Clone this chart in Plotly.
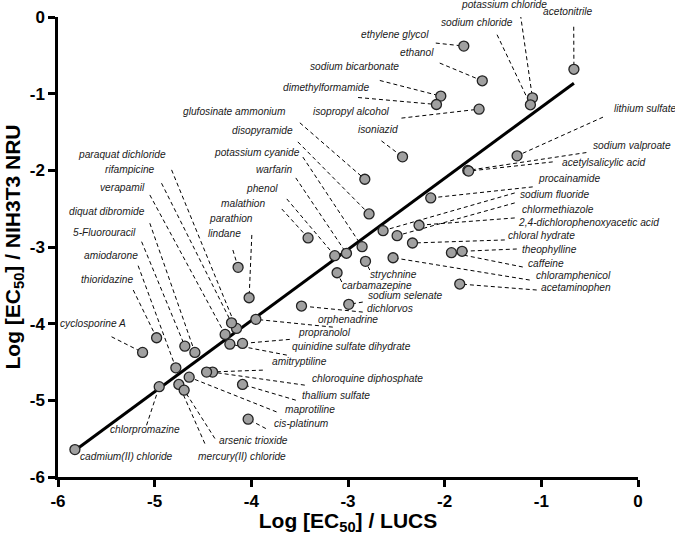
import plotly.graph_objects as go

# compound names and log EC50 values (x: LUCS, y: NIH3T3 NRU)
compounds = [
    "potassium chloride", "acetonitrile", "sodium chloride", "ethylene glycol", "ethanol",
    "sodium bicarbonate", "dimethylformamide", "isopropyl alcohol", "isoniazid", "lithium sulfate",
    "sodium valproate", "acetylsalicylic acid", "glufosinate ammonium", "disopyramide", "potassium cyanide",
    "warfarin", "phenol", "malathion", "parathion", "lindane",
    "paraquat dichloride", "rifampicine", "verapamil", "diquat dibromide", "5-Fluorouracil",
    "amiodarone", "thioridazine", "cyclosporine A", "chlorpromazine", "cadmium(II) chloride",
    "mercury(II) chloride", "arsenic trioxide", "cis-platinum", "maprotiline", "thallium sulfate",
    "chloroquine diphosphate", "amitryptiline", "quinidine sulfate dihydrate", "propranolol", "orphenadrine",
    "dichlorvos", "sodium selenate", "carbamazepine", "strychnine", "procainamide",
    "sodium fluoride", "chlormethiazole", "2,4-dichlorophenoxyacetic acid", "chloral hydrate", "theophylline",
    "caffeine", "chloramphenicol", "acetaminophen",
]
log_lucs = [
    -1.092, -0.663, -1.113, -1.802, -1.611,
    -2.040, -2.085, -1.644, -2.436, -1.251,
    -1.761, -1.752, -2.826, -2.782, -2.854,
    -3.016, -3.137, -3.413, -4.023, -4.137,
    -4.153, -4.205, -4.271, -4.584, -4.688,
    -4.781, -4.980, -5.125, -4.953, -5.825,
    -4.750, -4.695, -4.033, -4.643, -4.091,
    -4.401, -4.463, -4.222, -4.091, -3.953,
    -3.481, -2.992, -3.113, -2.819, -2.144,
    -2.637, -2.492, -2.265, -2.333, -1.820,
    -1.930, -2.534, -1.844,
]
log_nru = [
    -1.054, -0.682, -1.145, -0.379, -0.832,
    -1.032, -1.141, -1.202, -1.824, -1.811,
    -2.001, -2.010, -2.116, -2.569, -2.996,
    -3.082, -3.113, -2.882, -3.662, -3.265,
    -4.062, -3.989, -4.140, -4.375, -4.293,
    -4.576, -4.184, -4.375, -4.822, -5.642,
    -4.793, -4.867, -5.246, -4.698, -4.793,
    -4.632, -4.632, -4.267, -4.258, -3.944,
    -3.770, -3.748, -3.336, -3.187, -2.360,
    -2.787, -2.852, -2.716, -2.948, -3.056,
    -3.074, -3.140, -3.483,
]

fit_slope = 0.928
fit_intercept = -0.248

tick_vals = [-6, -5, -4, -3, -2, -1, 0]
tick_text = ["-6", "-5", "-4", "-3", "-2", "-1", "0"]

# label placement: text x, text y, anchor, leader start x, leader start y (axis units)
label_place = {
    "potassium chloride": (-1.389, 0.0, "center", -1.216, 0.030),
    "acetonitrile": (-0.727, 0.0, "center", -0.665, -0.127),
    "sodium chloride": (-1.663, -0.078, "center", -1.458, -0.231),
    "ethylene glycol": (-2.137, -0.222, "right", -2.092, -0.340),
    "ethanol": (-2.092, -0.457, "right", -2.051, -0.601),
    "sodium bicarbonate": (-2.447, -0.649, "right", -2.671, -0.828),
    "dimethylformamide": (-2.757, -0.917, "right", -2.896, -1.050),
    "isopropyl alcohol": (-2.550, -1.237, "right", -2.447, -1.319),
    "isoniazid": (-2.457, -1.463, "right", -2.654, -1.616),
    "lithium sulfate": (-0.265, -1.188, "left", -0.362, -1.306),
    "sodium valproate": (-0.482, -1.681, "left", -0.534, -1.768),
    "acetylsalicylic acid": (-0.810, -1.894, "left", -0.882, -1.890),
    "glufosinate ammonium": (-3.619, -1.233, "right", -3.498, -1.380),
    "disopyramide": (-3.550, -1.481, "right", -3.519, -1.629),
    "potassium cyanide": (-3.481, -1.768, "right", -3.467, -1.827),
    "warfarin": (-3.550, -1.994, "right", -3.540, -2.099),
    "phenol": (-3.705, -2.233, "right", -3.633, -2.373),
    "malathion": (-3.826, -2.429, "right", -3.685, -2.504),
    "parathion": (-3.964, -2.625, "right", -3.995, -2.843),
    "lindane": (-4.091, -2.830, "right", -4.191, -3.039),
    "paraquat dichloride": (-4.860, -1.798, "right", -4.825, -1.994),
    "rifampicine": (-4.980, -1.985, "right", -4.929, -2.168),
    "verapamil": (-5.084, -2.220, "right", -5.050, -2.321),
    "diquat dibromide": (-5.084, -2.539, "right", -5.050, -2.690),
    "5-Fluorouracil": (-5.171, -2.813, "right", -5.135, -2.931),
    "amiodarone": (-5.153, -3.114, "right", -5.171, -3.244),
    "thioridazine": (-5.205, -3.418, "right", -5.222, -3.561),
    "cyclosporine A": (-5.274, -3.996, "right", -5.446, -4.171),
    "chlorpromazine": (-5.481, -5.377, "left", -5.084, -5.325),
    "cadmium(II) chloride": (-5.791, -5.739, "left", None, None),
    "mercury(II) chloride": (-4.574, -5.739, "left", -4.481, -5.564),
    "arsenic trioxide": (-4.360, -5.520, "left", -4.377, -5.498),
    "cis-platinum": (-3.791, -5.302, "left", -3.850, -5.368),
    "maprotiline": (-3.671, -5.120, "left", -3.739, -5.151),
    "thallium sulfate": (-3.498, -4.933, "left", -3.540, -4.998),
    "chloroquine diphosphate": (-3.395, -4.715, "left", -3.447, -4.802),
    "amitryptiline": (-3.809, -4.498, "left", -3.881, -4.606),
    "quinidine sulfate dihydrate": (-3.602, -4.302, "left", -3.633, -4.410),
    "propranolol": (-3.533, -4.114, "left", -3.602, -4.205),
    "orphenadrine": (-3.326, -3.940, "left", -3.157, -4.045),
    "dichlorvos": (-2.826, -3.800, "left", -2.847, -3.849),
    "sodium selenate": (-2.809, -3.636, "left", -2.847, -3.718),
    "carbamazepine": (-3.085, -3.496, "left", -3.064, -3.457),
    "strychnine": (-2.792, -3.353, "left", -2.775, -3.300),
    "procainamide": (-1.051, -2.103, "left", -1.089, -2.216),
    "sodium fluoride": (-1.241, -2.312, "left", -1.275, -2.295),
    "chlormethiazole": (-1.223, -2.508, "left", -1.275, -2.425),
    "2,4-dichlorophenoxyacetic acid": (-1.257, -2.683, "left", -1.275, -2.621),
    "chloral hydrate": (-1.368, -2.856, "left", -1.378, -2.908),
    "theophylline": (-1.223, -3.030, "left", -1.254, -3.026),
    "caffeine": (-1.154, -3.213, "left", -1.192, -3.261),
    "chloramphenicol": (-1.079, -3.366, "left", -1.120, -3.431),
    "acetaminophen": (-1.027, -3.531, "left", -1.048, -3.561),
}
# labels that sit above the top of the axis are nudged up in pixels
label_lift = {"potassium chloride": 13, "acetonitrile": 6}

label_font = dict(family="Arial, Liberation Sans", size=10.2, color="#1a1a1a", style="italic")
bold = "Arial, Liberation Sans"

fig = go.Figure()

x_fit = [min(log_lucs), max(log_lucs)]
fig.add_trace(go.Scatter(
    x=x_fit, y=[fit_slope * v + fit_intercept for v in x_fit],
    mode="lines", line=dict(color="black", width=3), hoverinfo="skip",
))
fig.add_trace(go.Scatter(
    x=log_lucs, y=log_nru, mode="markers", text=compounds,
    marker=dict(size=10, color="#a0a0a0", line=dict(color="#222222", width=1.3)),
))

shapes = []
annotations = []
for name, xv, yv in zip(compounds, log_lucs, log_nru):
    tx, ty, anchor, lx, ly = label_place[name]
    annotations.append(dict(
        x=tx, y=ty, xref="x", yref="y", text=name, showarrow=False,
        xanchor=anchor, yanchor="middle", yshift=label_lift.get(name, 0),
        font=label_font,
    ))
    if lx is not None:
        shapes.append(dict(
            type="line", xref="x", yref="y", x0=lx, y0=ly, x1=xv, y1=yv,
            line=dict(color="black", width=1, dash="4px,3px"), layer="below",
        ))

axis_common = dict(
    range=[-6, 0], tickvals=tick_vals, ticktext=tick_text,
    showline=True, linecolor="black", linewidth=2.5, mirror=False,
    ticks="outside", ticklen=7, tickwidth=2.5, tickcolor="black",
    showgrid=False, zeroline=False, automargin=False,
    tickfont=dict(family=bold, size=17, color="black", weight="bold"),
)

fig.update_layout(
    width=675, height=535,
    margin=dict(l=58, r=37, t=17, b=58),
    plot_bgcolor="white", paper_bgcolor="white",
    showlegend=False,
    shapes=shapes, annotations=annotations,
    xaxis=dict(axis_common, title=dict(
        text="Log [EC<sub>50</sub>] / LUCS", standoff=6,
        font=dict(family=bold, size=21, color="black", weight="bold"))),
    yaxis=dict(axis_common, title=dict(
        text="Log [EC<sub>50</sub>] / NIH3T3 NRU", standoff=4,
        font=dict(family=bold, size=21, color="black", weight="bold"))),
)

# drop the default page margin so the figure fills the window
fig.write_html(
    "out.html",
    config={"displayModeBar": False},
    post_script="document.body.style.margin='0';",
)
